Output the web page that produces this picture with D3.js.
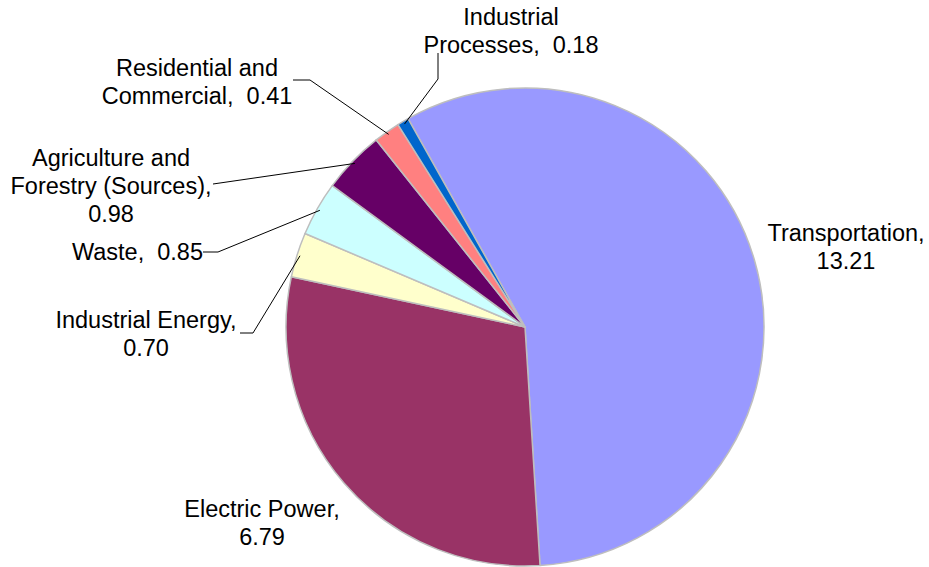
<!DOCTYPE html>
<html>
<head>
<meta charset="utf-8">
<script src="https://cdn.jsdelivr.net/npm/d3@7"></script>
<style>
  html, body { margin: 0; padding: 0; background: #ffffff; }
  svg { display: block; }
  text { font-family: "Liberation Sans", Arial, sans-serif; font-size: 23.5px; fill: #000; }
</style>
</head>
<body>
<svg id="chart" width="929" height="567"></svg>
<script>
// ---- data ----
const categories = ["Transportation", "Electric Power", "Industrial Energy", "Waste",
                    "Agriculture and Forestry (Sources)", "Residential and Commercial", "Industrial Processes"];
const values = [13.21, 6.79, 0.70, 0.85, 0.98, 0.41, 0.18];
const colors = ["#9999FF", "#993366", "#FFFFCC", "#CCFFFF", "#660066", "#FF8080", "#0066CC"];

// label text lines (name part split as in the original; value appended)
const labelNameLines = [
  ["Transportation,"],
  ["Electric Power,"],
  ["Industrial Energy,"],
  ["Waste,"],
  ["Agriculture and", "Forestry (Sources),"],
  ["Residential and", "Commercial,"],
  ["Industrial", "Processes,"]
];
// whether the value goes on its own line or after the last name line
const valueOwnLine = [true, true, true, false, true, false, false];

// ---- layout ----
const W = 929, H = 567;
const cx = 525, cy = 327, R = 239;
const startDeg = -29.3;
const lineGap = 28;
const labelLayout = [
  { x: 846, y: 241, anchor: "middle", leader: null },
  { x: 262, y: 517, anchor: "middle", leader: null },
  { x: 146, y: 328, anchor: "middle", leader: [[240, 333], [253, 333]] },
  { x: 203, y: 260, anchor: "end",    leader: [[203, 252], [218, 252]] },
  { x: 111, y: 166, anchor: "middle", leader: [[213, 184]] },
  { x: 197, y: 76,  anchor: "middle", leader: [[293, 80], [310, 80]] },
  { x: 511, y: 25,  anchor: "middle", leader: [[438, 53], [438, 79]] }
];

const fmt = d3.format(".2f");
const svg = d3.select("#chart");
const g = svg.append("g").attr("transform", `translate(${cx},${cy})`);

const start = startDeg * Math.PI / 180;
const pie = d3.pie().sort(null).value(d => d).startAngle(start).endAngle(start + 2 * Math.PI);
const arcs = pie(values);
const arc = d3.arc().innerRadius(0).outerRadius(R);

g.selectAll("path.slice")
  .data(arcs)
  .join("path")
  .attr("class", "slice")
  .attr("d", arc)
  .attr("fill", (d, i) => colors[i])
  .attr("stroke", "#BEBEBE")
  .attr("stroke-width", 1.5)
  .attr("stroke-linejoin", "round");

// leader lines
const edgeArc = d3.arc().innerRadius(R).outerRadius(R);
arcs.forEach((a, i) => {
  const lay = labelLayout[i];
  if (!lay.leader) return;
  const mid = (a.startAngle + a.endAngle) / 2;
  const ex = cx + Math.sin(mid) * (R - 3);
  const ey = cy - Math.cos(mid) * (R - 3);
  const pts = lay.leader.concat([[ex, ey]]);
  svg.append("path")
    .attr("d", d3.line()(pts))
    .attr("fill", "none")
    .attr("stroke", "#000")
    .attr("stroke-width", 1);
});

// labels
arcs.forEach((a, i) => {
  const lay = labelLayout[i];
  const lines = labelNameLines[i].slice();
  const v = fmt(values[i]);
  if (valueOwnLine[i]) lines.push(v);
  else lines[lines.length - 1] = lines[lines.length - 1] + "\u00A0 " + v;
  const t = svg.append("text")
    .attr("text-anchor", lay.anchor)
    .attr("x", lay.x)
    .attr("y", lay.y);
  lines.forEach((ln, k) => {
    t.append("tspan")
      .attr("x", lay.x)
      .attr("y", lay.y + k * lineGap)
      .text(ln);
  });
});
</script>
</body>
</html>
